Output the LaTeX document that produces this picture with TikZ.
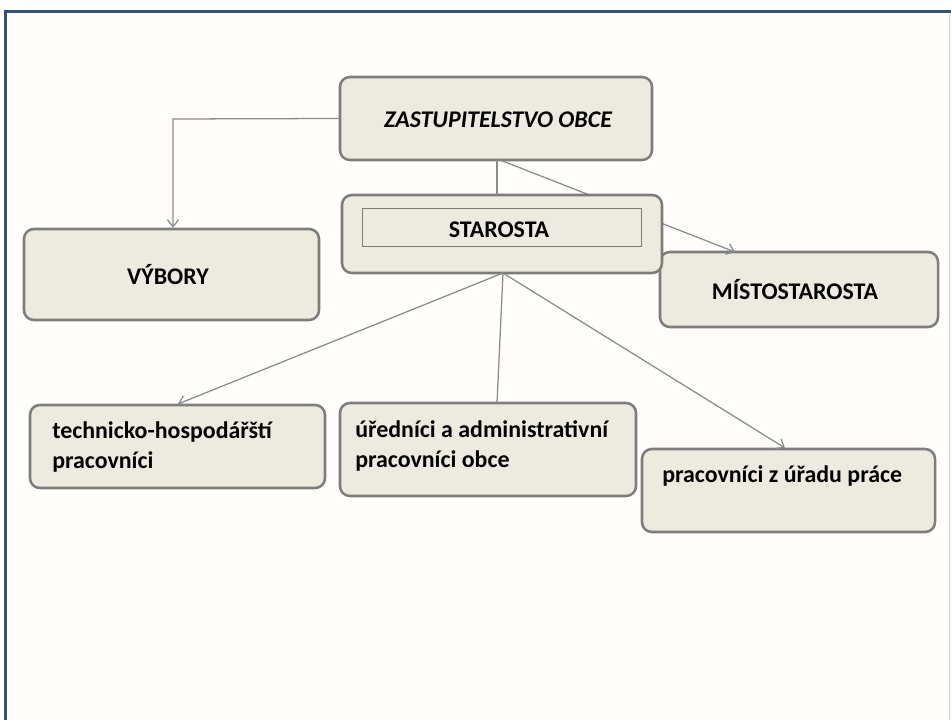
\documentclass[tikz,border=0pt]{standalone}
\usepackage{fontspec}
\setmainfont{Carlito}
\usetikzlibrary{arrows.meta}

\definecolor{framecol}{RGB}{52,80,120}
\definecolor{boxfill}{RGB}{237,234,224}
\definecolor{boxline}{RGB}{125,125,122}
\definecolor{linecol}{RGB}{140,140,140}
\definecolor{papercol}{RGB}{255,254,250}

% one pixel of the reference
\newcommand\pxu{0.025cm}

\tikzset{
  box/.style={rectangle,rounded corners=7pt,draw=boxline,line width=1.8pt,fill=boxfill,inner sep=0pt},
  innerbox/.style={rectangle,draw=boxline,line width=0.7pt,fill=boxfill,inner sep=0pt},
  conn/.style={draw=linecol,line width=0.9pt},
  boxtext/.style={font=\bfseries\fontsize{17}{21.5}\selectfont,inner sep=0pt},
}

\begin{document}
\begin{tikzpicture}[x=\pxu,y=-\pxu,>={Straight Barb[length=5pt,width=8pt]}]
\useasboundingbox (0,0) rectangle (951,720);
% paper and frame
\fill[papercol] (6,12) rectangle (951,720);
\draw[linecol!40,line width=0.7pt] (949,14) -- (949,720);
\draw[framecol,line width=2.2pt] (951,11.5) -- (5.5,11.5) -- (5.5,720);

% top level
\path (496,118.5) node[box,minimum width=312*\pxu,minimum height=83*\pxu] (zast) {};
\path (171.5,274.5) node[box,minimum width=295*\pxu,minimum height=91*\pxu] (vyb) {};
\path (799,289.5) node[box,minimum width=278*\pxu,minimum height=75*\pxu] (mist) {};

% connector to mistostarosta runs behind starosta
\coordinate (zs) at (500,160);
\coordinate (zm) at (735,252);
\draw[conn,->] (zs) -- (zm);
\path (502,234) node[box,minimum width=320*\pxu,minimum height=78*\pxu] (star) {};
\path (501.5,227) node[innerbox,minimum width=279*\pxu,minimum height=38*\pxu] (starin) {};

\node[boxtext,font=\bfseries\itshape\fontsize{17}{21.5}\selectfont] (tzast) at (498,120) {ZASTUPITELSTVO OBCE};
\node[boxtext] (tstar) at (499,229.5) {STAROSTA};
\node[boxtext] (tvyb) at (168,275) {VÝBORY};
\node[boxtext] (tmist) at (795,289.5) {MÍSTOSTAROSTA};

% bottom level
\path (177.5,446.5) node[box,minimum width=295*\pxu,minimum height=83*\pxu] (tech) {};
\path (488,449.5) node[box,minimum width=296*\pxu,minimum height=93*\pxu] (ured) {};
\path (788.5,490.5) node[box,minimum width=293*\pxu,minimum height=83*\pxu] (prac) {};

\node[boxtext,anchor=base west] (ttech) at (52,438) {\parbox[t]{9cm}{technicko-hospodářští\\pracovníci}};
\node[boxtext,anchor=base west] (tured) at (355,437) {\parbox[t]{9cm}{úředníci a administrativní\\pracovníci obce}};
\node[boxtext,anchor=base west] (tprac) at (662,482) {pracovníci z úřadu práce};

% connectors
\coordinate (vybin) at (173,119);
\draw[conn,->] (zast.west) -- (vybin) -- (vybin |- vyb.north);
\draw[conn] (497,160) -- (497,195);

\coordinate (sb) at (503,273);
\draw[conn,->] (sb) -- (178,404);
\draw[conn] (sb) -- (497,403);
\draw[conn,->] (sb) -- (785,448);
\end{tikzpicture}
\end{document}
